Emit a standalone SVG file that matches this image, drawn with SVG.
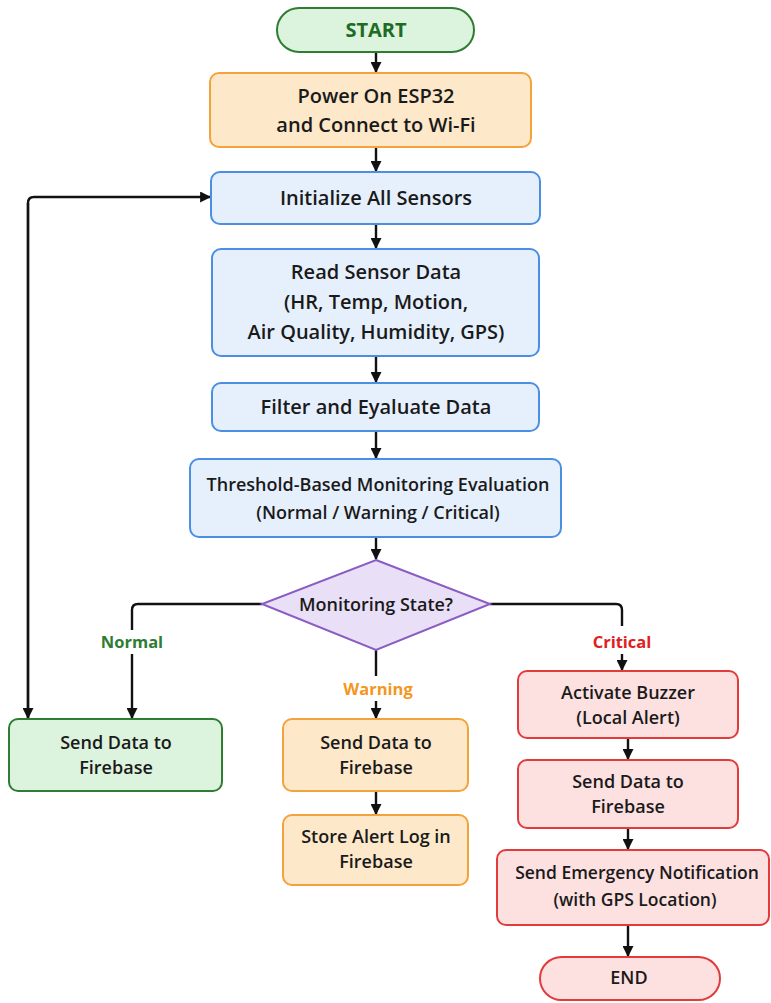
<svg xmlns="http://www.w3.org/2000/svg" width="771" height="1003" viewBox="0 0 771 1003">
<defs>
<marker id="ah" viewBox="0 0 10 10" refX="9" refY="5" markerWidth="11" markerHeight="11" markerUnits="userSpaceOnUse" orient="auto">
<path d="M0,0 L10,5 L0,10 z" fill="#111"/>
</marker>
<style>
text{font-family:"Open Sans","Liberation Sans",sans-serif;font-weight:600;font-size:20px;fill:#1a1a1a;text-anchor:middle}
.s18{font-size:18px}
.g rect,.g path{stroke-width:2}
.green{fill:#dcf3de;stroke:#2e7d32}
.orange{fill:#fde8c9;stroke:#f3a23c}
.blue{fill:#e6f0fd;stroke:#4b8fe2}
.red{fill:#fde0e0;stroke:#e23b3b}
.purple{fill:#e9dff6;stroke:#8a5cc4}
.c{fill:none;stroke:#111;stroke-width:2.4}
.lbl{font-weight:700;font-size:16.5px}
</style>
</defs>
<rect width="771" height="1003" fill="#fff"/>
<g id="connectors">
<path class="c" d="M376,52 V72" marker-end="url(#ah)"/>
<path class="c" d="M376,147 V171" marker-end="url(#ah)"/>
<path class="c" d="M376,224 V248" marker-end="url(#ah)"/>
<path class="c" d="M376,356 V382" marker-end="url(#ah)"/>
<path class="c" d="M376,431 V458" marker-end="url(#ah)"/>
<path class="c" d="M376,537 V559" marker-end="url(#ah)"/>
<path class="c" d="M262,604 H138 Q132,604 132,610 V630"/>
<path class="c" d="M132,654 V718" marker-end="url(#ah)"/>
<path class="c" d="M28,718 V203 Q28,197 34,197 H210" marker-end="url(#ah)"/>
<path class="c" d="M28,203 V718" marker-end="url(#ah)"/>
<path class="c" d="M376,650 V676"/>
<path class="c" d="M376,701 V718" marker-end="url(#ah)"/>
<path class="c" d="M376,791 V814" marker-end="url(#ah)"/>
<path class="c" d="M490,604 H616 Q622,604 622,610 V626"/>
<path class="c" d="M622,654 V670" marker-end="url(#ah)"/>
<path class="c" d="M628,738 V759" marker-end="url(#ah)"/>
<path class="c" d="M628,828 V849" marker-end="url(#ah)"/>
<path class="c" d="M628,925 V956" marker-end="url(#ah)"/>
<text class="lbl" x="132" y="648" style="fill:#2e7d32">Normal</text>
<text class="lbl" x="378" y="695" style="fill:#f5961e">Warning</text>
<text class="lbl" x="622" y="648" style="fill:#e02020">Critical</text>
</g>
<g id="start" class="g"><rect class="green" x="277" y="8" width="197" height="44" rx="22"/><text x="376" y="37" style="fill:#1e6b25;font-weight:700;font-size:20px">START</text></g>
<g id="power" class="g"><rect class="orange" x="210" y="73" width="321" height="74" rx="9"/><text x="376" y="103">Power On ESP32</text><text x="376" y="132">and Connect to Wi-Fi</text></g>
<g id="init" class="g"><rect class="blue" x="211" y="172" width="329" height="52" rx="9"/><text x="376" y="205">Initialize All Sensors</text></g>
<g id="read" class="g"><rect class="blue" x="212" y="249" width="327" height="107" rx="9"/><text x="376" y="279">Read Sensor Data</text><text x="376" y="309">(HR, Temp, Motion,</text><text x="376" y="339">Air Quality, Humidity, GPS)</text></g>
<g id="filter" class="g"><rect class="blue" x="212" y="383" width="327" height="48" rx="9"/><text x="376" y="414">Filter and Eyaluate Data</text></g>
<g id="threshold" class="g"><rect class="blue" x="190" y="459" width="371" height="78" rx="9"/><text class="s18" x="378" y="491">Threshold-Based Monitoring Evaluation</text><text class="s18" x="378" y="519">(Normal / Warning / Critical)</text></g>
<g id="decision" class="g"><path class="purple" d="M376,560 L490,604 L376,650 L262,604 Z"/><text class="s18" x="376" y="611">Monitoring State?</text></g>
<g id="normal-send" class="g"><rect class="green" x="9" y="719" width="213" height="72" rx="9"/><text class="s18" x="116" y="749">Send Data to</text><text class="s18" x="116" y="774">Firebase</text></g>
<g id="warning-send" class="g"><rect class="orange" x="283" y="719" width="185" height="72" rx="9"/><text class="s18" x="376" y="749">Send Data to</text><text class="s18" x="376" y="774">Firebase</text></g>
<g id="warning-log" class="g"><rect class="orange" x="283" y="815" width="185" height="70" rx="9"/><text class="s18" x="376" y="843">Store Alert Log in</text><text class="s18" x="376" y="868">Firebase</text></g>
<g id="buzzer" class="g"><rect class="red" x="518" y="671" width="220" height="67" rx="9"/><text class="s18" x="628" y="699">Activate Buzzer</text><text class="s18" x="628" y="724">(Local Alert)</text></g>
<g id="critical-send" class="g"><rect class="red" x="518" y="760" width="220" height="68" rx="9"/><text class="s18" x="628" y="788">Send Data to</text><text class="s18" x="628" y="813">Firebase</text></g>
<g id="emergency" class="g"><rect class="red" x="497" y="850" width="272" height="75" rx="9"/><text x="637" y="879" style="font-size:17.5px">Send Emergency Notification</text><text x="635" y="906" style="font-size:17.5px">(with GPS Location)</text></g>
<g id="end" class="g"><rect class="red" x="540" y="957" width="180" height="43" rx="21.5"/><text x="629" y="984" style="font-size:18px">END</text></g>
</svg>
